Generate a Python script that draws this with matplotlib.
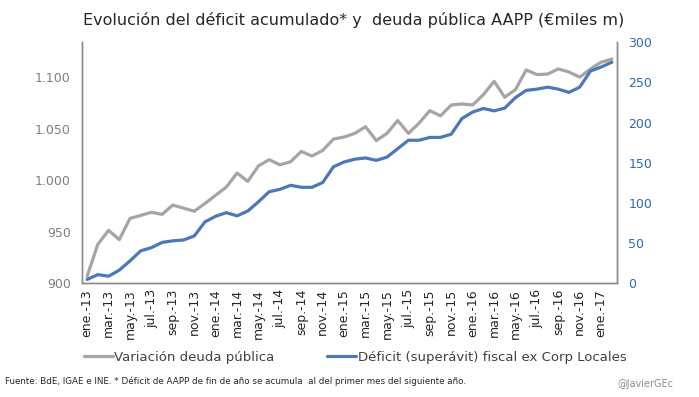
import matplotlib
matplotlib.use('Agg')
import matplotlib.pyplot as plt

plt.rcParams['font.family'] = ['DejaVu Sans']

# meses y años del eje x (ene-13 a feb-17)
meses = ['ene.', 'feb.', 'mar.', 'abr.', 'may.', 'jun.',
         'jul.', 'ago.', 'sep.', 'oct.', 'nov.', 'dic.']
anios = ['13', '14', '15', '16', '17']

# deuda pública AAPP (miles de millones, eje izquierdo)
deuda = [907, 938, 951.5, 942.5, 963, 966, 969, 967, 976, 973, 970, 977.5,
         985.5, 993.5, 1007, 999, 1014, 1020, 1015, 1018, 1028, 1023.5, 1029, 1040,
         1042, 1045.5, 1052, 1038.5, 1045.5, 1058, 1045.5, 1055.5, 1067.5, 1062.5, 1073, 1074,
         1073, 1083, 1096, 1080.5, 1088, 1107, 1102.5, 1103, 1108, 1105, 1100, 1108,
         1114.5, 1117.5]

# déficit acumulado ex Corp Locales (eje derecho)
deficit = [5, 11, 9, 16.5, 28, 40.5, 44.5, 51, 53, 54, 59, 76.5,
           83.5, 88, 84, 90, 101.5, 114, 117, 122, 119.5, 119.5, 125.5, 145,
           151, 154.5, 156, 153, 157, 167.5, 178, 178, 181.5, 181.5, 185.5, 205,
           213, 217.5, 214.5, 218, 231, 240, 241.5, 244, 241.5, 237.5, 244, 264,
           269, 275]

etiquetas = [m + '-' + a for a in anios for m in meses][:len(deuda)]

gris = '#A5A5A5'
azul = '#4A78B8'
eje = '#8C8C8C'

fig = plt.figure(figsize=(6.99, 3.97), dpi=100)
ax = fig.add_axes([0.117, 0.286, 0.766, 0.608])
ax2 = ax.twinx()

x = list(range(len(deuda)))
l1, = ax.plot(x, deuda, color=gris, lw=2.3, solid_capstyle='round')
l2, = ax2.plot(x, deficit, color=azul, lw=2.3, solid_capstyle='round')

ax.set_xlim(-0.5, len(deuda) - 0.5)
ax.set_ylim(900, 1134)
ax2.set_ylim(0, 300)

ax.set_yticks([900, 950, 1000, 1050, 1100])
ax.set_yticklabels(['900', '950', '1.000', '1.050', '1.100'])
ax2.set_yticks([0, 50, 100, 150, 200, 250, 300])

ax.set_xticks(x[::2])
ax.set_xticklabels(etiquetas[::2], rotation=90, fontsize=9, color='#262626')

ax.tick_params(axis='y', length=0, labelsize=9, labelcolor='#7F7F7F', pad=8)
ax2.tick_params(axis='y', length=0, labelsize=9, labelcolor='#2E6BB0', pad=8)
ax.tick_params(axis='x', length=0, pad=4)

for a in (ax, ax2):
    a.spines['top'].set_visible(False)
    for s in ('left', 'right', 'bottom'):
        a.spines[s].set_color(eje)
        a.spines[s].set_linewidth(1)

fig.text(0.506, 0.95, 'Evolución del déficit acumulado* y  deuda pública AAPP (€miles m)',
         ha='center', va='center', fontsize=11.5, color='#262626')

fig.legend([l1, l2], ['Variación deuda pública', 'Déficit (superávit) fiscal ex Corp Locales'],
           loc='center', bbox_to_anchor=(0.508, 1 - 357 / 397), ncol=2, frameon=False,
           fontsize=9.5, handlelength=2.2, handletextpad=0.1, columnspacing=4.0,
           labelcolor='#404040')

fig.text(0.007, 1 - 381 / 397,
         'Fuente: BdE, IGAE e INE. * Déficit de AAPP de fin de año se acumula  al del primer mes del siguiente año.',
         ha='left', va='center', fontsize=6.3, color='#262626')
fig.text(0.963, 1 - 384 / 397, '@JavierGEc', ha='right', va='center', fontsize=7, color='#8C8C8C')

fig.savefig('out.png', dpi=100)
